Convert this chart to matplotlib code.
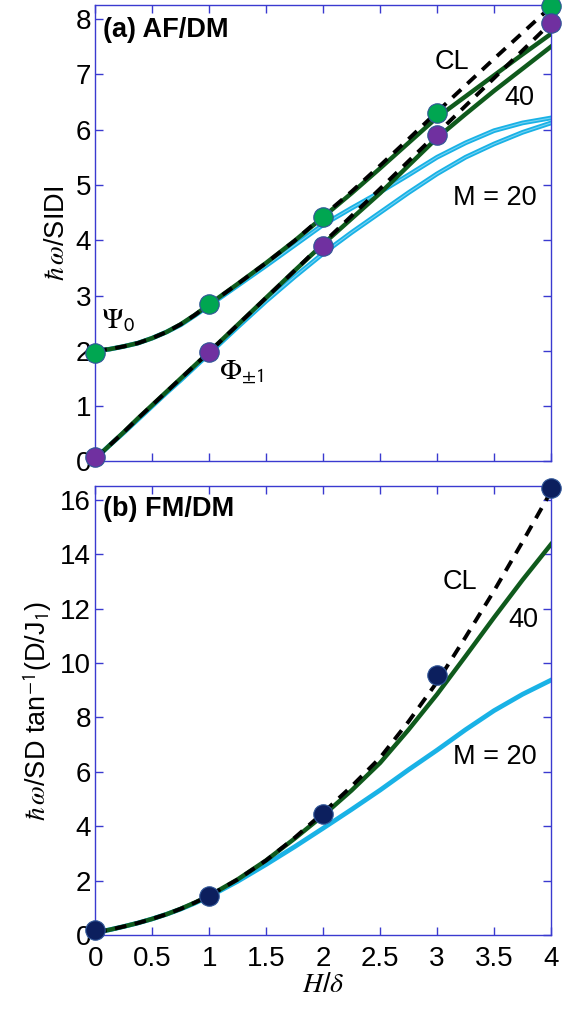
import numpy as np
import matplotlib.pyplot as plt

plt.rcParams['font.family'] = ['Liberation Sans', 'DejaVu Sans']
plt.rcParams['mathtext.fontset'] = 'stix'

# --- data ---
hx = [0, 0.125, 0.25, 0.375, 0.5, 0.625, 0.75, 0.875, 1,
      1.25, 1.5, 1.75, 2, 2.25, 2.5, 2.75, 3, 3.25, 3.5, 3.75, 4]

# (a) AF/DM, upper branch (Psi_0) and lower branch (Phi_+-1)
a_cl_up = [2.0, 2.03, 2.08, 2.14, 2.23, 2.34, 2.48, 2.65, 2.84,
           3.21, 3.59, 3.99, 4.44, 4.88, 5.35, 5.83, 6.32, 6.8, 7.28, 7.75, 8.22]
a_cl_lo = [0.05, 0.29, 0.53, 0.78, 1.02, 1.26, 1.5, 1.74, 1.98,
           2.47, 2.96, 3.45, 3.95, 4.44, 4.93, 5.43, 5.93, 6.43, 6.93, 7.43, 7.93]
a_40_up = [2.0, 2.03, 2.08, 2.14, 2.23, 2.34, 2.48, 2.65, 2.84,
           3.21, 3.59, 3.99, 4.42, 4.85, 5.3, 5.76, 6.22, 6.6, 6.98, 7.36, 7.73]
a_40_lo = [0.05, 0.29, 0.53, 0.78, 1.02, 1.26, 1.5, 1.74, 1.98,
           2.47, 2.96, 3.45, 3.93, 4.39, 4.85, 5.35, 5.85, 6.28, 6.7, 7.1, 7.5]
a_20_up = [2.0, 2.03, 2.08, 2.14, 2.23, 2.34, 2.47, 2.64, 2.82,
           3.18, 3.54, 3.91, 4.28, 4.58, 4.87, 5.18, 5.5, 5.76, 5.98, 6.12, 6.21]
a_20_lo = [0.05, 0.29, 0.52, 0.76, 1.0, 1.24, 1.47, 1.71, 1.95,
           2.43, 2.9, 3.34, 3.76, 4.14, 4.5, 4.86, 5.2, 5.5, 5.74, 5.95, 6.12]

dot_x = [0, 1, 2, 3, 4]
psi0 = [1.96, 2.85, 4.42, 6.3, 8.23]
phi1 = [0.08, 1.98, 3.89, 5.9, 7.92]

# (b) FM/DM
b_cl = [0.1, 0.2, 0.32, 0.45, 0.6, 0.77, 0.97, 1.2, 1.45,
        2.05, 2.75, 3.58, 4.5, 5.47, 6.52, 7.85, 9.3, 10.95, 12.65, 14.45, 16.3]
b_40 = [0.1, 0.2, 0.32, 0.45, 0.6, 0.77, 0.97, 1.2, 1.45,
        2.05, 2.75, 3.55, 4.4, 5.32, 6.33, 7.55, 8.85, 10.25, 11.67, 13.05, 14.36]
b_20 = [0.1, 0.2, 0.32, 0.45, 0.6, 0.77, 0.96, 1.18, 1.42,
        1.98, 2.6, 3.25, 3.93, 4.62, 5.33, 6.08, 6.8, 7.55, 8.25, 8.85, 9.37]
fm_dots = [0.2, 1.45, 4.46, 9.56, 16.42]

xticks = [0, 0.5, 1, 1.5, 2, 2.5, 3, 3.5, 4]
xticklabels = ['0', '0.5', '1', '1.5', '2', '2.5', '3', '3.5', '4']

spine_col = '#3a3ad0'
cyan = '#19b2e6'
green = '#0f5a1c'
fs = 20
tfs = 19.5

fig = plt.figure(figsize=(5.77, 10.21), dpi=100)
ax1 = fig.add_axes([0.165, 0.548, 0.79, 0.447])
ax2 = fig.add_axes([0.165, 0.084, 0.79, 0.440])


def style(ax):
    for s in ax.spines.values():
        s.set_color(spine_col)
        s.set_linewidth(1.0)
    ax.tick_params(direction='in', length=6, width=1, color=spine_col,
                   top=True, right=True, labelsize=fs, pad=3)
    ax.tick_params(axis='x', pad=8)
    ax.set_xlim(0, 4)
    ax.set_xticks(xticks)


# --- panel (a) ---
for y in (a_20_up, a_20_lo):
    ax1.plot(hx, y, color=cyan, lw=3.4, zorder=2)
    ax1.plot(hx, y, color='#78d2f2', lw=0.8, zorder=2)
for y in (a_40_up, a_40_lo):
    ax1.plot(hx, y, color=green, lw=3.2, zorder=3)
for y in (a_cl_up, a_cl_lo):
    ax1.plot(hx, y, color='black', lw=2.8, ls=(0, (3, 2.2)), zorder=4)
ax1.plot(dot_x, psi0, 'o', ms=14, mfc='#00a651', mec='#2f5597', mew=0.8, zorder=5, clip_on=False)
ax1.plot(dot_x, phi1, 'o', ms=14, mfc='#7030a0', mec='#2f5597', mew=0.8, zorder=5, clip_on=False)
style(ax1)
ax1.set_ylim(0, 8.25)
ax1.set_yticks(range(0, 9))
ax1.set_xticklabels([])
ax1.set_ylabel(r'$\hbar\,\omega$/SIDI', fontsize=19.5, labelpad=4)
ax1.text(0.07, 7.8, '(a) AF/DM', fontsize=19.5, fontweight='bold', va='center')
ax1.text(3.13, 7.23, 'CL', fontsize=tfs, ha='center', va='center')
ax1.text(3.72, 6.57, '40', fontsize=tfs, ha='center', va='center')
ax1.text(3.87, 4.76, 'M = 20', fontsize=tfs, ha='right', va='center')
ax1.text(0.05, 2.55, r'$\Psi_{\mathsf{0}}$', fontsize=21, va='center')
ax1.text(1.09, 1.62, r'$\Phi_{\mathsf{\pm1}}$', fontsize=21, va='center')

# --- panel (b) ---
ax2.plot(hx, b_20, color=cyan, lw=3.4, zorder=2)
ax2.plot(hx, b_40, color=green, lw=3.2, zorder=3)
ax2.plot(hx, b_cl, color='black', lw=2.8, ls=(0, (3, 2.2)), zorder=4)
ax2.plot(dot_x, fm_dots, 'o', ms=14, mfc='#0c1f5e', mec='#2f5597', mew=0.8, zorder=5, clip_on=False)
style(ax2)
ax2.set_ylim(0, 16.5)
ax2.set_yticks(range(0, 17, 2))
ax2.set_xticklabels(xticklabels)
ax2.set_ylabel(r'$\hbar\,\omega$/SD tan$^{\mathsf{-1}}$(D/J$_{\mathsf{1}}$)', fontsize=19.5, labelpad=4)
ax2.set_xlabel(r'$\mathit{H}$/$\delta$', fontsize=20, labelpad=0)
ax2.text(0.07, 15.65, '(b) FM/DM', fontsize=19.5, fontweight='bold', va='center')
ax2.text(3.2, 12.98, 'CL', fontsize=tfs, ha='center', va='center')
ax2.text(3.76, 11.58, '40', fontsize=tfs, ha='center', va='center')
ax2.text(3.87, 6.54, 'M = 20', fontsize=tfs, ha='right', va='center')

fig.savefig('out.png', dpi=100)
